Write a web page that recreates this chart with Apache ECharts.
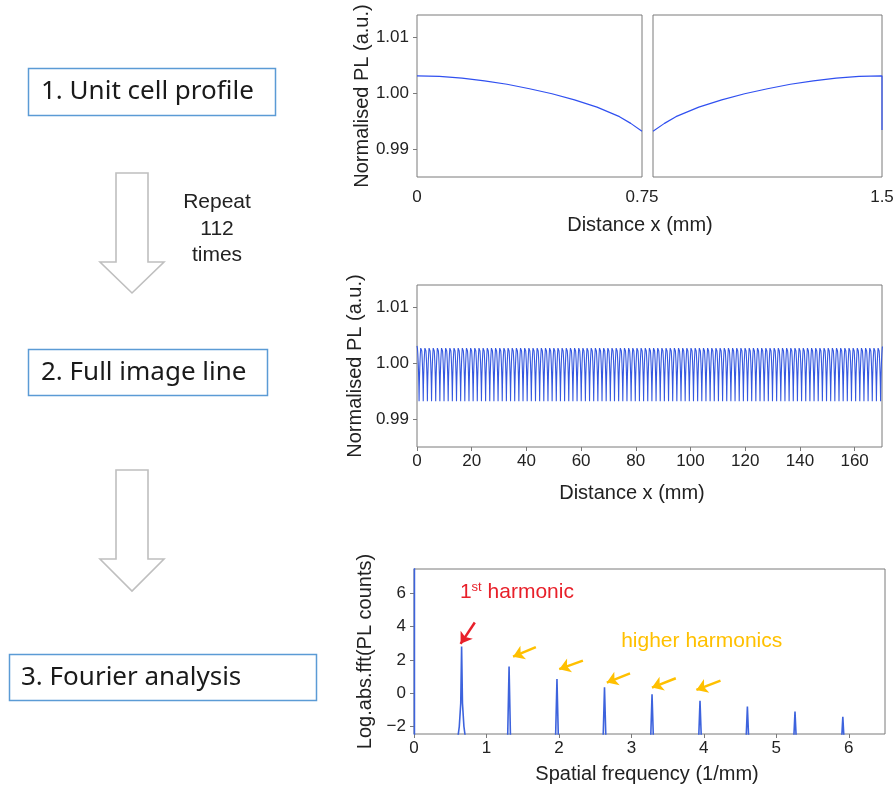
<!DOCTYPE html>
<html><head><meta charset="utf-8">
<script src="https://cdn.jsdelivr.net/npm/echarts@6/dist/echarts.min.js"></script>
<style>html,body{margin:0;padding:0;background:#fff}#c{width:896px;height:790px}</style>
</head><body><div id="c"></div>
<script>
// ---------- DATA ----------
// 1. Unit cell profile: distance x (mm) vs normalised PL (a.u.)
const cellLeftX  = [0, 0.075, 0.15, 0.225, 0.3, 0.375, 0.45, 0.525, 0.6, 0.675, 0.7125, 0.75];
const cellLeftPL = [1.0031, 1.0030, 1.0027, 1.0022, 1.0016, 1.0008, 0.9999, 0.9988, 0.9975, 0.9958, 0.9946, 0.9932];
const cellRightX  = [0.75, 0.7875, 0.825, 0.9, 0.975, 1.05, 1.125, 1.2, 1.275, 1.35, 1.425, 1.5];
const cellRightPL = [0.9932, 0.9946, 0.9958, 0.9975, 0.9988, 0.9999, 1.0008, 1.0016, 1.0022, 1.0027, 1.0030, 1.0031];
const cellEdgeDropPL = 0.9934;          // start of next cell seen at x = 1.5
const cellAxisPeriod = 1.5;              // mm, as labelled on the unit-cell axis
const fullLinePeriod = 1.52;             // mm, period seen in the full line / FFT spacing
const repeatCount = 112;                 // "Repeat 112 times"

// tick labels
const plTicks = [0.99, 1.00, 1.01];
const cellXTicksLeft = [0, 0.75];
const cellXTicksRight = [1.5];
const fullXTicks = [0, 20, 40, 60, 80, 100, 120, 140, 160];
const freqTicks = [0, 1, 2, 3, 4, 5, 6];
const logTicks = [-2, 0, 2, 4, 6];

// 3. Fourier analysis: spatial frequency (1/mm) vs log abs fft
const dcPoint = [[0.006, 9], [0.006, -3.2]];
const firstPeak = [[0.595, -3.0], [0.625, -2.0], [0.645, -0.6], [0.657, 2.81], [0.669, -0.6], [0.689, -2.0], [0.719, -3.0]];
const harmonicFreq = [1.312, 1.973, 2.629, 3.285, 3.947, 4.601, 5.258, 5.918];
const harmonicLog  = [1.60, 0.86, 0.36, -0.06, -0.46, -0.80, -1.10, -1.41];
const peakBase = -3.2;
const peakHalfWidth = 0.022;

// annotations (data coordinates)
const redArrow = [[0.839, 4.25], [0.643, 2.97]];
const orangeArrows = [
  [[1.682, 2.77], [1.367, 2.20]],
  [[2.331, 1.96], [2.004, 1.45]],
  [[2.981, 1.20], [2.661, 0.64]],
  [[3.613, 0.90], [3.284, 0.34]],
  [[4.230, 0.76], [3.897, 0.20]]
];
const firstHarmonicLabelAt = [0.634, 6.06];
const higherHarmonicsLabelAt = [2.859, 3.15];

// ---------- BUILD ----------
const leftCell = cellLeftX.map((x, i) => [x, cellLeftPL[i]]);
const rightCell = cellRightX.map((x, i) => [x, cellRightPL[i]]);
const rightCellWithDrop = rightCell.concat([[cellAxisPeriod, cellEdgeDropPL]]);

const oneCell = leftCell.concat(rightCell.slice(1));
const scale = fullLinePeriod / cellAxisPeriod;
const fullLine = [];
for (let k = 0; k < repeatCount; k++) {
  const off = k * fullLinePeriod;
  oneCell.forEach((p, j) => { if (k === 0 || j > 0) fullLine.push([off + p[0] * scale, p[1]]); });
}

const spectrum = dcPoint.slice().concat(firstPeak);
harmonicFreq.forEach((f, i) => {
  spectrum.push([f - peakHalfWidth, peakBase]);
  spectrum.push([f, harmonicLog[i]]);
  spectrum.push([f + peakHalfWidth, peakBase]);
});

// ---------- STYLE ----------
const AX = '#7a7a7a';
const TXT = '#222';
const FONT = '"Liberation Sans", Arial, sans-serif';
const RED = '#e8202a';
const GOLD = '#ffc000';

function yAx(grid, min, max, ticks, fmt, name, gap, showLabels) {
  return {
    type: 'value', gridIndex: grid, min: min, max: max,
    axisLine: { show: false, onZero: false }, splitLine: { show: false },
    axisTick: { show: showLabels, length: 4, inside: false, lineStyle: { color: AX }, customValues: ticks },
    axisLabel: { show: showLabels, customValues: ticks, formatter: fmt, margin: 8,
                 fontFamily: FONT, fontSize: 17, color: TXT },
    name: name, nameLocation: 'middle', nameGap: gap,
    nameTextStyle: { fontFamily: FONT, fontSize: 20, color: TXT }
  };
}
function xAx(grid, min, max, ticks, fmt, showTicks, margin) {
  return {
    type: 'value', gridIndex: grid, min: min, max: max, position: 'bottom',
    axisLine: { show: false, onZero: false }, splitLine: { show: false },
    axisTick: { show: showTicks, length: 4, lineStyle: { color: AX }, customValues: ticks },
    axisLabel: { customValues: ticks, formatter: fmt, margin: margin,
                 fontFamily: FONT, fontSize: 17, color: TXT }
  };
}
const plFmt = v => v.toFixed(2);
const minusFmt = v => (v < 0 ? '\u2212' + Math.abs(v) : String(v));

const gridBase = { show: true, borderColor: AX, borderWidth: 1, backgroundColor: 'transparent', containLabel: false, outerBoundsMode: 'none' };

function hollowArrow(top, headY, tipY) {
  return {
    type: 'polygon',
    shape: { points: [[116, top], [148, top], [148, headY], [164, headY], [132, tipY], [100, headY], [116, headY]] },
    style: { fill: '#fff', stroke: '#bfbfbf', lineWidth: 1.6 }
  };
}
function stepBox(x, y, w, h, label, textX) {
  return [
    { type: 'rect', shape: { x: x, y: y, width: w, height: h },
      style: { fill: '#fff', stroke: '#5b9bd5', lineWidth: 1.5 } },
    { type: 'text', x: textX, y: y + h / 2,
      style: { text: label, font: '26px "Noto Sans", "Open Sans", sans-serif', fill: '#1a1a1a',
               align: 'left', verticalAlign: 'middle', textAlign: 'left', textVerticalAlign: 'middle' } }
  ];
}
function plainText(txt, x, y, size, color) {
  return { type: 'text', x: x, y: y,
    style: { text: txt, font: size + 'px ' + FONT, fill: color,
             align: 'center', verticalAlign: 'middle', textAlign: 'center', textVerticalAlign: 'middle' } };
}

const chart = echarts.init(document.getElementById('c'), null, { renderer: 'canvas' });
chart.setOption({
  animation: false,
  backgroundColor: '#fff',
  grid: [
    Object.assign({ left: 417, top: 15, width: 225, height: 162 }, gridBase),
    Object.assign({ left: 653, top: 15, width: 229, height: 162 }, gridBase),
    Object.assign({ left: 417, top: 285, width: 465, height: 162 }, gridBase),
    Object.assign({ left: 414, top: 569, width: 471, height: 165 }, gridBase)
  ],
  xAxis: [
    xAx(0, 0, 0.75, cellXTicksLeft, v => (v === 0 ? '0' : '0.75'), false, 12),
    xAx(1, 0.75, 1.5, cellXTicksRight, v => String(v), false, 12),
    xAx(2, 0, 170, fullXTicks, v => String(v), true, 6),
    xAx(3, 0, 6.5, freqTicks, v => String(v), true, 6)
  ],
  yAxis: [
    yAx(0, 0.985, 1.014, plTicks, plFmt, 'Normalised PL (a.u.)', 45, true),
    yAx(1, 0.985, 1.014, plTicks, plFmt, '', 0, false),
    yAx(2, 0.985, 1.014, plTicks, plFmt, 'Normalised PL (a.u.)', 45, true),
    yAx(3, -2.45, 7.47, logTicks, minusFmt, 'Log.abs.fft(PL counts)', 36, true)
  ],
  series: [
    { type: 'line', xAxisIndex: 0, yAxisIndex: 0, data: leftCell, showSymbol: false, clip: true,
      lineStyle: { color: '#3050f0', width: 1.2 } },
    { type: 'line', xAxisIndex: 1, yAxisIndex: 1, data: rightCellWithDrop, showSymbol: false, clip: true,
      lineStyle: { color: '#3050f0', width: 1.2 } },
    { type: 'line', xAxisIndex: 2, yAxisIndex: 2, data: fullLine, showSymbol: false, clip: true,
      lineStyle: { color: '#3558e0', width: 1.1 } },
    { type: 'line', xAxisIndex: 3, yAxisIndex: 3, data: spectrum, showSymbol: false, clip: true,
      lineStyle: { color: '#3d63dd', width: 1.6 },
      markLine: {
        silent: true, symbol: ['none', 'arrow'], symbolSize: 11, precision: 4,
        label: { show: false },
        data: [[{ coord: redArrow[0], lineStyle: { color: RED, width: 2.5, type: 'solid' } }, { coord: redArrow[1] }]]
          .concat(orangeArrows.map(a => [{ coord: a[0], lineStyle: { color: GOLD, width: 2.5, type: 'solid' } }, { coord: a[1] }]))
      },
      markPoint: {
        silent: true,
        data: [
          { coord: firstHarmonicLabelAt, symbol: 'circle', symbolSize: 0,
            label: { show: true, position: 'right', distance: 0,
              formatter: '{a|1}{b|st}{a| harmonic}',
              rich: {
                a: { fontFamily: FONT, fontSize: 21, color: RED, lineHeight: 24 },
                b: { fontFamily: FONT, fontSize: 13, color: RED, verticalAlign: 'top', lineHeight: 14 }
              } } },
          { coord: higherHarmonicsLabelAt, symbol: 'circle', symbolSize: 0,
            label: { show: true, position: 'right', distance: 0, formatter: 'higher harmonics',
              fontFamily: FONT, fontSize: 21, color: GOLD } }
        ]
      }
    }
  ],
  graphic: [
    ...stepBox(28.5, 68.5, 247, 47, '1. Unit cell profile', 41),
    ...stepBox(28.5, 349.5, 239, 46, '2. Full image line', 41),
    ...stepBox(9.5, 654.5, 307, 46, '3. Fourier analysis', 21),
    hollowArrow(173, 262, 293),
    hollowArrow(470, 559, 591),
    plainText('Repeat', 217, 202, 21, TXT),
    plainText('112', 217, 229, 21, TXT),
    plainText('times', 217, 255, 21, TXT),
    plainText('Distance x (mm)', 640, 225, 20, TXT),
    plainText('Distance x (mm)', 632, 493, 20, TXT),
    plainText('Spatial frequency (1/mm)', 647, 774, 20, TXT)
  ]
});
</script>
</body></html>
